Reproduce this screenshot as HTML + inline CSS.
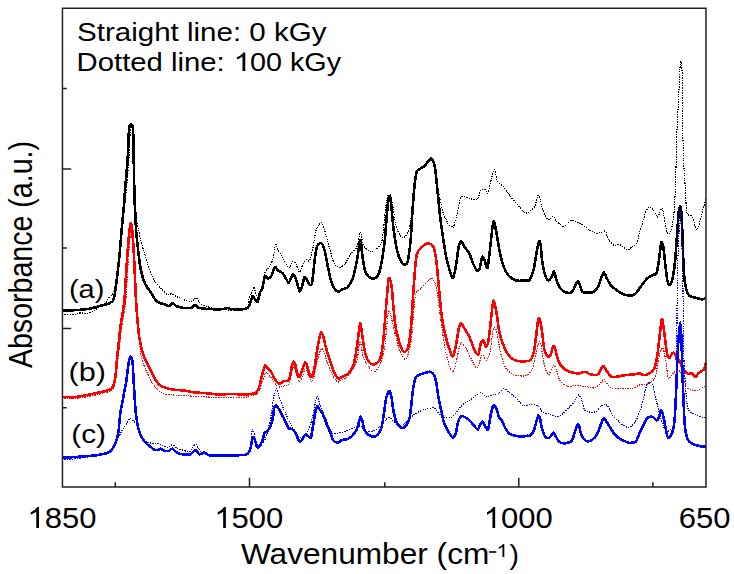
<!DOCTYPE html>
<html><head><meta charset="utf-8"><style>html,body{margin:0;padding:0;background:#fff;width:734px;height:574px;overflow:hidden}svg{display:block}</style></head>
<body><svg width="734" height="574" viewBox="0 0 734 574">
<rect x="0" y="0" width="734" height="574" fill="#fff"/>
<g fill="none" stroke-linejoin="round" stroke-linecap="butt">
<path d="M62.00,314.20 C63.84,314.20 72.56,314.37 75.00,314.20 C77.44,314.03 77.33,313.17 79.20,313.00 C81.07,312.83 86.10,313.35 88.20,313.00 C90.30,312.65 92.33,311.42 94.00,310.50 C95.67,309.58 98.36,307.56 100.00,306.50 C101.64,305.44 104.35,304.20 105.60,303.00 C106.85,301.80 107.96,299.06 108.80,298.00 C109.64,296.94 110.76,296.63 111.50,295.50 C112.24,294.37 113.38,291.77 114.00,290.00 C114.62,288.23 115.42,285.22 115.90,283.00 C116.38,280.78 116.96,277.56 117.40,274.30 C117.84,271.04 118.55,264.58 119.00,260.00 C119.45,255.42 120.12,246.68 120.60,242.00 C121.08,237.32 121.93,230.97 122.40,227.00 C122.87,223.03 123.49,217.82 123.90,214.00 C124.31,210.18 124.95,203.54 125.30,200.00 C125.65,196.46 126.05,192.82 126.40,189.00 C126.75,185.18 127.42,177.68 127.80,173.00 C128.18,168.32 128.80,161.10 129.10,156.00 C129.40,150.90 129.66,140.97 129.90,137.00 C130.14,133.03 130.46,129.20 130.80,128.00 C131.14,126.80 131.95,126.80 132.30,128.50 C132.65,130.20 133.03,132.70 133.30,140.00 C133.57,147.30 133.93,170.79 134.20,180.00 C134.47,189.21 134.92,199.76 135.20,205.00 C135.48,210.24 135.79,213.74 136.20,217.00 C136.61,220.26 137.45,224.64 138.10,228.00 C138.75,231.36 139.89,237.09 140.80,240.70 C141.71,244.31 143.47,249.99 144.50,253.50 C145.53,257.01 147.07,262.38 148.10,265.50 C149.13,268.62 150.77,273.16 151.80,275.50 C152.83,277.84 154.11,280.19 155.40,282.00 C156.69,283.81 159.21,286.50 160.90,288.30 C162.59,290.10 165.74,293.92 167.30,294.70 C168.86,295.48 170.60,293.55 171.90,293.80 C173.20,294.06 175.14,295.81 176.50,296.50 C177.86,297.19 179.50,297.92 181.50,298.70 C183.50,299.48 188.49,302.11 190.60,302.00 C192.71,301.89 194.87,297.55 196.40,297.90 C197.93,298.25 199.29,303.10 201.40,304.50 C203.51,305.90 208.67,307.09 211.30,307.80 C213.94,308.51 215.23,309.26 220.00,309.50 C224.77,309.74 240.84,311.38 245.00,309.50 C249.16,307.62 248.47,298.57 249.40,296.20 C250.34,293.83 250.93,294.10 251.60,292.80 C252.27,291.50 253.50,286.76 254.10,287.00 C254.69,287.24 255.22,292.97 255.80,294.50 C256.38,296.03 257.38,298.51 258.20,297.80 C259.02,297.09 260.65,293.01 261.60,289.50 C262.55,285.99 263.74,276.27 264.90,273.00 C266.06,269.73 268.64,268.51 269.80,266.40 C270.96,264.29 272.28,261.16 273.10,258.10 C273.92,255.04 274.89,245.98 275.60,244.80 C276.31,243.62 277.04,247.92 278.10,249.80 C279.16,251.68 281.57,255.52 283.10,258.10 C284.63,260.68 287.50,267.53 288.90,268.00 C290.30,268.47 291.95,261.87 293.00,261.40 C294.05,260.93 295.37,263.17 296.30,264.70 C297.24,266.23 298.65,272.31 299.60,272.20 C300.55,272.09 302.05,265.67 303.00,263.90 C303.95,262.13 305.37,260.17 306.30,259.70 C307.24,259.23 308.67,262.24 309.60,260.60 C310.54,258.96 311.96,252.45 312.90,248.10 C313.83,243.75 315.02,233.53 316.20,229.90 C317.38,226.27 320.02,222.50 321.20,222.50 C322.38,222.50 323.34,226.27 324.50,229.90 C325.66,233.53 328.00,243.28 329.40,248.10 C330.80,252.92 332.98,261.19 334.40,263.90 C335.82,266.61 337.90,267.20 339.40,267.20 C340.90,267.20 343.44,265.71 345.00,263.90 C346.56,262.09 348.70,256.85 350.40,254.40 C352.10,251.95 355.58,249.75 357.00,246.60 C358.42,243.45 359.48,232.38 360.40,232.20 C361.32,232.02 362.32,242.71 363.50,245.30 C364.68,247.89 367.21,249.76 368.70,250.50 C370.19,251.24 372.14,251.79 374.00,250.50 C375.86,249.21 380.14,247.51 381.80,241.40 C383.46,235.29 384.67,214.24 385.70,207.40 C386.73,200.56 388.18,193.84 389.10,193.10 C390.02,192.36 391.21,197.58 392.20,202.20 C393.19,206.82 394.80,220.70 396.10,225.70 C397.40,230.70 399.91,236.20 401.40,237.50 C402.89,238.80 405.40,236.63 406.60,234.90 C407.80,233.17 409.11,228.90 409.90,225.30 C410.69,221.70 411.69,213.51 412.20,209.50 C412.71,205.49 413.09,201.00 413.50,197.00 C413.91,193.00 414.62,184.96 415.10,181.30 C415.58,177.65 416.19,172.97 416.90,171.20 C417.61,169.43 418.98,169.58 420.10,168.80 C421.22,168.02 423.30,167.14 424.80,165.70 C426.30,164.25 429.48,159.15 430.70,158.60 C431.92,158.05 432.73,160.13 433.40,161.80 C434.07,163.47 434.96,167.64 435.40,170.40 C435.84,173.16 436.00,178.20 436.50,181.30 C437.00,184.40 437.96,187.85 438.90,192.30 C439.83,196.75 442.00,208.70 443.10,212.70 C444.21,216.69 445.96,218.84 446.70,220.50 C447.44,222.16 447.52,223.51 448.30,224.40 C449.08,225.29 451.46,226.43 452.20,226.80 C452.94,227.17 452.76,229.00 453.50,227.00 C454.24,225.00 456.29,216.95 457.40,212.70 C458.50,208.45 459.63,199.04 461.30,197.00 C462.97,194.96 466.98,197.93 469.20,198.30 C471.42,198.67 475.34,200.70 477.00,199.60 C478.66,198.50 479.79,191.97 480.90,190.50 C482.00,189.03 483.79,188.83 484.80,189.20 C485.81,189.57 487.06,194.59 488.00,193.10 C488.94,191.61 490.44,182.03 491.40,178.70 C492.36,175.37 493.95,169.23 494.80,169.60 C495.65,169.97 496.22,178.89 497.40,181.30 C498.58,183.71 501.19,184.38 503.10,186.60 C505.01,188.82 508.68,194.24 510.90,197.00 C513.12,199.76 516.80,203.88 518.80,206.10 C520.80,208.32 523.50,211.92 525.00,212.70 C526.50,213.48 528.01,212.53 529.40,211.60 C530.79,210.66 533.57,208.41 534.80,206.10 C536.03,203.79 537.32,196.22 538.10,195.30 C538.88,194.38 539.69,197.76 540.30,199.60 C540.91,201.44 541.48,205.68 542.40,208.30 C543.32,210.92 545.72,216.56 546.80,218.10 C547.88,219.64 549.08,219.50 550.00,219.20 C550.92,218.90 552.36,215.69 553.30,216.00 C554.24,216.31 555.37,220.01 556.60,221.40 C557.83,222.79 560.77,225.18 562.00,225.80 C563.23,226.42 563.91,226.58 565.30,225.80 C566.69,225.02 569.63,220.61 571.80,220.30 C573.97,219.99 578.28,222.37 580.60,223.60 C582.92,224.83 586.05,227.61 588.20,229.00 C590.35,230.39 593.94,232.93 595.80,233.40 C597.66,233.87 599.91,232.61 601.30,232.30 C602.69,231.99 604.68,230.28 605.60,231.20 C606.52,232.12 606.57,236.79 607.80,238.80 C609.03,240.81 612.66,244.62 614.30,245.40 C615.94,246.18 618.07,244.00 619.40,244.30 C620.73,244.60 622.47,246.74 623.70,247.50 C624.93,248.26 626.87,249.86 628.10,249.70 C629.33,249.54 631.17,247.32 632.40,246.40 C633.63,245.48 635.86,244.89 636.80,243.20 C637.74,241.51 638.24,237.28 639.00,234.50 C639.76,231.72 641.28,226.69 642.20,223.60 C643.12,220.51 644.57,215.02 645.50,212.70 C646.43,210.38 647.72,207.67 648.80,207.20 C649.88,206.73 651.87,208.01 653.10,209.40 C654.33,210.79 656.27,217.16 657.50,217.00 C658.73,216.84 660.88,208.46 661.80,208.30 C662.72,208.14 663.22,212.50 664.00,215.90 C664.78,219.30 666.36,229.98 667.30,232.30 C668.24,234.62 669.68,234.77 670.60,232.30 C671.52,229.84 673.09,222.07 673.80,214.90 C674.51,207.73 675.18,193.15 675.60,181.70 C676.02,170.25 676.35,146.54 676.80,134.10 C677.25,121.66 678.28,104.09 678.80,93.90 C679.32,83.71 680.02,64.96 680.50,62.20 C680.98,59.44 681.86,63.86 682.20,74.40 C682.54,84.94 682.63,123.13 682.90,136.60 C683.17,150.07 683.75,162.08 684.10,169.50 C684.45,176.92 685.00,182.88 685.40,189.00 C685.80,195.12 685.92,208.73 686.90,212.70 C687.88,216.67 690.91,214.53 692.30,217.00 C693.69,219.47 695.62,229.48 696.70,230.10 C697.78,230.72 698.98,224.49 699.90,221.40 C700.82,218.31 702.34,211.39 703.20,208.30 C704.06,205.21 705.60,200.83 706.00,199.60" stroke="#000" stroke-width="1.1" stroke-dasharray="1.4 1.1" shape-rendering="crispEdges"/>
<path d="M62.00,310.50 C64.08,310.44 72.99,310.33 76.70,310.10 C80.41,309.87 85.61,309.28 88.20,308.90 C90.79,308.52 93.16,307.87 95.00,307.40 C96.84,306.93 99.39,306.08 101.20,305.60 C103.01,305.12 106.48,304.44 107.80,304.00 C109.12,303.56 109.81,302.91 110.50,302.50 C111.19,302.09 112.09,302.30 112.70,301.10 C113.31,299.90 114.13,297.80 114.80,294.00 C115.47,290.20 116.69,280.25 117.40,274.30 C118.11,268.35 119.20,258.28 119.80,252.00 C120.39,245.72 121.16,235.03 121.60,230.00 C122.04,224.97 122.56,220.04 122.90,216.50 C123.24,212.96 123.69,208.85 124.00,205.00 C124.31,201.15 124.75,193.89 125.10,189.30 C125.45,184.71 126.10,177.46 126.50,172.60 C126.90,167.74 127.59,160.33 127.90,155.00 C128.21,149.67 128.49,139.04 128.70,135.00 C128.91,130.96 129.07,127.97 129.40,126.50 C129.73,125.03 130.55,124.60 131.00,124.60 C131.45,124.60 132.27,124.74 132.60,126.50 C132.93,128.26 133.05,127.30 133.30,137.00 C133.56,146.70 134.12,184.19 134.40,195.00 C134.68,205.81 135.05,208.12 135.30,213.30 C135.56,218.49 135.80,226.41 136.20,231.60 C136.60,236.78 137.58,245.24 138.10,249.90 C138.62,254.56 139.31,260.80 139.90,264.50 C140.50,268.20 141.51,273.15 142.30,276.00 C143.09,278.85 144.34,282.33 145.50,284.60 C146.66,286.87 149.22,290.03 150.50,292.00 C151.78,293.97 153.37,297.01 154.50,298.50 C155.63,299.99 157.01,301.65 158.50,302.50 C159.99,303.35 163.50,303.98 165.00,304.50 C166.50,305.02 168.05,306.38 169.10,306.20 C170.15,306.02 171.34,303.20 172.40,303.20 C173.46,303.20 175.07,305.55 176.60,306.20 C178.13,306.85 181.09,307.57 183.20,307.80 C185.31,308.03 189.86,308.23 191.50,307.80 C193.14,307.38 193.75,304.80 194.80,304.80 C195.85,304.80 196.79,307.19 198.90,307.80 C201.01,308.41 206.30,308.92 209.70,309.10 C213.10,309.28 220.56,309.28 222.90,309.10 C225.24,308.92 225.02,307.80 226.20,307.80 C227.38,307.80 228.62,308.92 231.20,309.10 C233.78,309.28 241.86,309.53 244.40,309.10 C246.94,308.68 247.95,307.93 249.10,306.10 C250.25,304.27 251.79,297.38 252.50,296.20 C253.21,295.02 253.41,296.98 254.10,297.80 C254.79,298.62 256.58,302.71 257.40,302.00 C258.22,301.29 259.19,294.80 259.90,292.80 C260.61,290.80 261.69,290.24 262.40,287.90 C263.11,285.56 264.08,277.59 264.90,276.30 C265.72,275.01 267.26,278.91 268.20,278.80 C269.13,278.69 270.56,277.14 271.50,275.50 C272.44,273.86 273.87,267.91 274.80,267.20 C275.74,266.49 277.04,269.68 278.10,270.50 C279.16,271.32 281.24,271.95 282.30,273.00 C283.36,274.05 284.67,276.54 285.60,277.90 C286.54,279.26 287.85,283.18 288.90,282.60 C289.95,282.02 291.95,274.11 293.00,273.80 C294.05,273.49 295.37,277.94 296.30,280.40 C297.24,282.86 298.78,290.38 299.60,291.20 C300.42,292.02 301.39,288.20 302.10,286.20 C302.81,284.20 303.89,277.92 304.60,277.10 C305.31,276.28 306.39,279.34 307.10,280.40 C307.81,281.46 308.89,284.25 309.60,284.60 C310.31,284.95 311.41,286.19 312.10,282.90 C312.79,279.61 313.81,266.56 314.50,261.40 C315.19,256.24 316.05,249.08 317.00,246.50 C317.95,243.92 320.14,242.73 321.20,243.20 C322.26,243.67 323.56,246.51 324.50,249.80 C325.44,253.09 326.87,261.94 327.80,266.40 C328.74,270.86 330.05,278.03 331.10,281.30 C332.15,284.57 334.15,288.06 335.20,289.50 C336.25,290.94 337.55,291.50 338.50,291.50 C339.45,291.50 340.98,289.93 341.90,289.50 C342.82,289.07 344.16,288.84 345.00,288.50 C345.84,288.16 346.67,288.59 347.80,287.10 C348.93,285.61 351.70,281.88 353.00,278.00 C354.30,274.12 355.95,265.08 357.00,259.70 C358.05,254.32 359.66,240.75 360.40,240.00 C361.14,239.25 361.58,250.14 362.20,254.40 C362.82,258.66 363.88,266.96 364.80,270.10 C365.72,273.25 367.40,275.41 368.70,276.60 C370.00,277.79 372.51,279.05 374.00,278.50 C375.49,277.95 377.73,277.59 379.20,272.70 C380.67,267.81 383.29,252.50 384.40,244.00 C385.50,235.50 386.33,219.36 387.00,212.70 C387.67,206.04 388.55,198.49 389.10,197.00 C389.65,195.51 390.28,197.77 390.90,202.20 C391.52,206.63 392.58,221.27 393.50,228.30 C394.42,235.33 396.10,246.80 397.40,251.80 C398.70,256.80 401.28,262.11 402.70,263.60 C404.12,265.09 406.29,265.44 407.40,262.30 C408.50,259.16 409.82,247.99 410.50,241.40 C411.18,234.81 411.77,222.09 412.20,215.80 C412.62,209.51 413.09,201.89 413.50,197.00 C413.91,192.11 414.62,184.96 415.10,181.30 C415.58,177.65 416.19,172.97 416.90,171.20 C417.61,169.43 418.98,169.58 420.10,168.80 C421.22,168.02 423.30,167.14 424.80,165.70 C426.30,164.25 429.48,159.15 430.70,158.60 C431.92,158.05 432.73,160.13 433.40,161.80 C434.07,163.47 434.96,167.64 435.40,170.40 C435.84,173.16 436.12,177.53 436.50,181.30 C436.88,185.07 437.65,192.55 438.10,197.00 C438.55,201.45 439.19,208.27 439.70,212.70 C440.21,217.13 440.85,222.39 441.70,228.30 C442.55,234.21 444.58,248.48 445.70,254.40 C446.82,260.32 448.57,266.77 449.60,270.10 C450.63,273.43 452.08,278.64 453.00,277.90 C453.92,277.16 455.29,269.33 456.10,264.90 C456.91,260.47 457.96,249.93 458.70,246.60 C459.44,243.27 460.38,241.22 461.30,241.40 C462.22,241.58 464.08,246.24 465.20,247.90 C466.32,249.56 468.08,250.88 469.20,253.10 C470.32,255.32 472.00,261.12 473.10,263.60 C474.21,266.08 476.08,269.86 477.00,270.60 C477.92,271.34 478.86,270.73 479.60,268.80 C480.34,266.87 481.46,258.11 482.20,257.00 C482.94,255.90 484.06,259.44 484.80,261.00 C485.54,262.56 486.66,269.67 487.40,268.00 C488.14,266.33 489.15,255.74 490.00,249.20 C490.85,242.66 492.46,224.01 493.40,221.80 C494.33,219.59 495.78,229.72 496.60,233.60 C497.42,237.48 498.28,244.77 499.20,249.20 C500.12,253.63 501.81,261.20 503.10,264.90 C504.39,268.60 506.44,273.09 508.30,275.30 C510.16,277.51 513.61,279.76 516.20,280.50 C518.79,281.24 524.73,280.54 526.60,280.50 C528.47,280.46 528.39,281.79 529.40,280.20 C530.41,278.61 532.62,273.62 533.70,269.30 C534.78,264.98 536.22,253.71 537.00,249.70 C537.78,245.69 538.68,241.61 539.20,241.00 C539.72,240.39 540.25,242.31 540.70,245.40 C541.15,248.49 541.69,258.32 542.40,262.80 C543.11,267.28 544.76,274.54 545.70,277.00 C546.64,279.46 548.08,280.36 549.00,280.20 C549.92,280.04 551.52,277.13 552.20,275.90 C552.88,274.67 553.18,270.89 553.80,271.50 C554.42,272.11 555.74,277.89 556.60,280.20 C557.46,282.51 558.67,286.10 559.90,287.80 C561.13,289.50 563.61,291.58 565.30,292.20 C566.99,292.82 570.26,293.43 571.80,292.20 C573.34,290.97 575.26,285.04 576.20,283.50 C577.14,281.96 577.78,280.83 578.40,281.30 C579.02,281.77 579.99,285.26 580.60,286.80 C581.21,288.34 581.01,291.44 582.70,292.20 C584.39,292.96 590.33,292.96 592.50,292.20 C594.67,291.44 596.75,288.81 598.00,286.80 C599.25,284.79 600.46,280.01 601.30,278.00 C602.14,275.99 603.13,272.60 603.90,272.60 C604.66,272.60 605.68,276.14 606.70,278.00 C607.72,279.86 609.71,284.00 611.10,285.70 C612.49,287.40 615.03,288.92 616.50,290.00 C617.97,291.08 619.86,292.52 621.50,293.30 C623.14,294.08 626.24,295.34 628.10,295.50 C629.96,295.66 633.06,295.32 634.60,294.40 C636.14,293.48 637.92,290.39 639.00,289.00 C640.08,287.61 640.97,286.16 642.20,284.60 C643.43,283.04 646.16,279.39 647.70,278.00 C649.24,276.61 651.87,275.41 653.10,274.80 C654.33,274.19 655.62,275.40 656.40,273.70 C657.18,272.00 657.98,266.81 658.60,262.80 C659.22,258.79 660.35,248.33 660.80,245.40 C661.25,242.47 661.43,241.80 661.80,242.10 C662.17,242.40 662.93,244.57 663.40,247.50 C663.87,250.43 664.55,258.17 665.10,262.80 C665.65,267.43 666.68,277.11 667.30,280.20 C667.92,283.29 668.82,284.60 669.50,284.60 C670.18,284.60 671.34,283.29 672.10,280.20 C672.87,277.11 674.19,269.27 674.90,262.80 C675.61,256.33 676.58,241.60 677.10,234.50 C677.62,227.40 678.19,216.71 678.60,212.70 C679.01,208.69 679.60,206.20 680.00,206.20 C680.40,206.20 681.05,208.39 681.40,212.70 C681.75,217.01 682.19,228.89 682.50,236.60 C682.81,244.31 683.22,260.30 683.60,267.10 C683.98,273.90 684.42,280.58 685.20,284.60 C685.98,288.62 687.63,293.66 689.10,295.50 C690.57,297.34 693.76,297.05 695.60,297.60 C697.44,298.15 700.63,299.40 702.10,299.40 C703.57,299.40 705.45,297.86 706.00,297.60" stroke="#000" stroke-width="2.6" shape-rendering="crispEdges"/>
<path d="M62.00,398.50 C64.55,398.43 74.62,398.64 80.00,398.00 C85.38,397.36 95.58,395.06 100.00,394.00 C104.42,392.94 109.15,391.77 111.20,390.50 C113.25,389.23 113.73,387.48 114.50,385.00 C115.27,382.52 116.08,376.97 116.60,373.00 C117.12,369.03 117.75,361.11 118.20,357.00 C118.65,352.89 119.32,348.25 119.80,344.00 C120.28,339.75 121.03,331.25 121.60,327.00 C122.17,322.75 123.20,317.68 123.80,314.00 C124.39,310.32 125.40,304.68 125.80,301.00 C126.20,297.32 126.20,294.38 126.60,288.00 C127.00,281.62 128.08,263.65 128.60,256.00 C129.12,248.35 129.93,238.25 130.30,234.00 C130.67,229.75 130.93,226.28 131.20,226.00 C131.47,225.72 131.87,227.96 132.20,232.00 C132.53,236.04 133.10,246.71 133.50,254.50 C133.90,262.29 134.66,281.97 135.00,287.00 C135.34,292.03 135.69,287.95 135.90,290.00 C136.11,292.05 136.30,298.24 136.50,301.50 C136.70,304.76 137.03,309.47 137.30,313.00 C137.57,316.53 138.10,322.57 138.40,326.40 C138.70,330.22 138.99,335.67 139.40,340.00 C139.81,344.33 140.35,352.68 141.30,357.00 C142.25,361.32 144.61,366.96 146.10,370.50 C147.59,374.04 150.17,379.29 151.80,382.00 C153.43,384.71 155.97,387.99 157.60,389.60 C159.23,391.22 161.13,392.63 163.30,393.40 C165.47,394.16 169.83,394.72 172.90,395.00 C175.97,395.28 182.18,395.23 185.00,395.40 C187.82,395.57 189.22,395.96 192.80,396.20 C196.38,396.44 205.36,396.97 210.30,397.10 C215.24,397.23 222.77,397.10 227.70,397.10 C232.63,397.10 241.90,397.23 245.10,397.10 C248.30,396.97 248.76,396.57 250.30,396.20 C251.84,395.83 254.77,395.24 256.00,394.50 C257.23,393.76 258.15,392.63 259.00,391.00 C259.85,389.37 261.05,385.62 262.00,383.00 C262.95,380.38 264.85,373.77 265.70,372.50 C266.55,371.23 267.11,373.08 268.00,374.00 C268.89,374.92 270.73,377.30 272.00,379.00 C273.27,380.70 275.73,384.87 277.00,386.00 C278.27,387.13 279.87,387.07 281.00,387.00 C282.13,386.93 283.87,385.93 285.00,385.50 C286.13,385.07 288.04,386.05 289.00,384.00 C289.96,381.95 291.09,373.41 291.80,371.00 C292.51,368.59 293.41,366.72 294.00,367.00 C294.59,367.28 295.43,371.16 296.00,373.00 C296.57,374.84 297.43,378.87 298.00,380.00 C298.57,381.13 299.29,381.71 300.00,381.00 C300.71,380.29 302.29,376.70 303.00,375.00 C303.71,373.30 304.43,369.43 305.00,369.00 C305.57,368.57 306.29,370.58 307.00,372.00 C307.71,373.42 309.29,377.73 310.00,379.00 C310.71,380.27 311.29,381.85 312.00,381.00 C312.71,380.15 314.15,376.26 315.00,373.00 C315.85,369.74 317.09,361.43 318.00,358.00 C318.91,354.57 320.55,349.65 321.40,348.80 C322.25,347.95 323.21,350.13 324.00,352.00 C324.79,353.87 326.01,359.17 327.00,362.00 C327.99,364.83 329.57,369.18 331.00,372.00 C332.43,374.82 335.83,380.71 337.10,381.90 C338.38,383.09 338.46,381.24 340.00,380.40 C341.54,379.56 345.63,378.76 348.00,376.00 C350.37,373.24 354.99,365.80 356.70,360.90 C358.41,356.00 359.11,341.80 360.10,341.40 C361.09,341.00 361.82,353.75 363.70,358.10 C365.58,362.45 371.09,371.26 373.40,372.10 C375.71,372.94 378.41,367.56 380.00,364.00 C381.59,360.44 383.37,354.54 384.60,347.00 C385.83,339.46 387.52,313.96 388.70,310.80 C389.88,307.64 391.51,319.57 392.90,324.70 C394.29,329.83 396.71,342.07 398.50,347.00 C400.29,351.93 403.73,360.29 405.50,359.50 C407.27,358.71 409.63,350.27 411.00,341.40 C412.37,332.53 413.81,304.39 415.20,296.90 C416.59,289.41 418.63,291.08 420.80,288.50 C422.97,285.92 428.77,280.05 430.50,278.70 C432.23,277.35 432.18,277.68 433.00,279.00 C433.82,280.32 435.25,282.76 436.30,288.00 C437.35,293.24 439.25,308.01 440.40,316.00 C441.55,323.99 443.28,337.78 444.40,344.40 C445.52,351.02 447.08,358.80 448.30,362.70 C449.52,366.60 451.89,371.90 453.00,371.90 C454.11,371.90 455.00,366.78 456.10,362.70 C457.21,358.62 459.31,344.94 460.80,343.10 C462.29,341.26 465.04,347.29 466.60,349.70 C468.16,352.11 470.33,357.52 471.80,360.10 C473.27,362.68 475.53,368.64 477.00,367.90 C478.47,367.16 480.91,356.00 482.20,354.90 C483.49,353.79 485.00,360.47 486.10,360.10 C487.21,359.73 488.97,356.73 490.00,352.30 C491.03,347.87 492.46,331.76 493.40,328.80 C494.33,325.84 495.59,328.07 496.60,331.40 C497.61,334.73 499.21,347.13 500.50,352.30 C501.79,357.47 503.84,364.75 505.70,367.90 C507.56,371.04 510.87,373.38 513.60,374.50 C516.33,375.62 522.39,376.48 525.00,375.80 C527.61,375.12 530.51,372.55 532.00,369.70 C533.49,366.85 534.56,359.52 535.50,355.70 C536.44,351.88 537.86,344.41 538.60,342.70 C539.34,340.99 540.16,342.00 540.70,343.60 C541.24,345.20 541.79,350.56 542.40,354.00 C543.01,357.44 544.14,364.98 545.00,367.90 C545.86,370.82 547.64,374.35 548.50,374.60 C549.36,374.86 550.36,371.02 551.10,369.70 C551.84,368.38 552.95,365.30 553.70,365.30 C554.45,365.30 555.54,367.60 556.40,369.70 C557.26,371.80 558.33,377.76 559.80,380.10 C561.27,382.44 564.58,385.45 566.80,386.20 C569.02,386.95 573.03,385.40 575.50,385.40 C577.97,385.40 581.48,385.83 584.20,386.20 C586.92,386.57 592.48,388.37 594.70,388.00 C596.92,387.63 598.54,384.83 599.90,383.60 C601.26,382.37 603.31,379.30 604.30,379.30 C605.29,379.30 605.79,382.37 606.90,383.60 C608.00,384.83 609.32,387.28 612.10,388.00 C614.88,388.72 623.37,388.74 626.50,388.70 C629.63,388.66 632.30,388.25 634.20,387.70 C636.10,387.15 638.00,385.34 639.90,384.80 C641.80,384.26 645.46,384.85 647.60,383.90 C649.74,382.95 653.53,381.22 655.00,378.10 C656.47,374.98 657.16,365.88 658.00,361.90 C658.84,357.92 660.18,351.90 660.90,350.00 C661.62,348.10 662.46,347.24 663.10,348.50 C663.74,349.76 664.66,354.71 665.40,358.90 C666.14,363.09 667.46,375.79 668.30,378.10 C669.14,380.41 670.45,376.04 671.30,375.20 C672.15,374.36 673.15,372.84 674.30,372.20 C675.45,371.56 678.04,369.65 679.40,370.70 C680.76,371.75 682.95,377.29 683.90,379.60 C684.85,381.91 684.95,385.53 686.10,387.00 C687.25,388.47 690.31,389.57 692.00,390.00 C693.69,390.43 696.31,390.43 698.00,390.00 C699.69,389.57 702.77,387.50 703.90,387.00 C705.03,386.50 705.70,386.57 706.00,386.50" stroke="#ff0000" stroke-width="1.1" stroke-dasharray="1.4 1.1" shape-rendering="crispEdges"/>
<path d="M62.00,396.70 C63.49,396.78 69.54,397.43 72.50,397.30 C75.46,397.17 79.94,396.31 82.90,395.80 C85.86,395.29 90.44,394.32 93.40,393.70 C96.36,393.08 101.28,392.08 103.80,391.40 C106.32,390.72 109.71,390.15 111.20,388.90 C112.69,387.65 113.62,385.12 114.30,382.60 C114.98,380.08 115.56,375.10 116.00,371.10 C116.44,367.11 116.99,358.55 117.40,354.40 C117.81,350.25 118.45,345.95 118.90,341.80 C119.35,337.65 120.06,329.24 120.60,325.10 C121.14,320.96 122.15,316.16 122.70,312.60 C123.25,309.04 124.15,303.63 124.50,300.00 C124.85,296.37 124.79,293.45 125.20,287.00 C125.61,280.55 126.79,262.57 127.40,254.50 C128.01,246.43 129.02,234.48 129.50,230.00 C129.98,225.52 130.42,222.90 130.80,222.90 C131.18,222.90 131.76,225.52 132.20,230.00 C132.64,234.48 133.43,246.00 133.90,254.50 C134.37,263.00 135.19,283.34 135.50,290.00 C135.81,296.66 135.90,298.24 136.10,301.50 C136.30,304.76 136.63,309.47 136.90,313.00 C137.17,316.53 137.65,322.87 138.00,326.40 C138.35,329.93 138.93,334.91 139.40,337.90 C139.87,340.89 140.62,344.79 141.30,347.50 C141.98,350.21 143.25,354.56 144.20,357.00 C145.15,359.44 146.92,362.52 148.00,364.70 C149.08,366.88 150.71,370.23 151.80,372.40 C152.89,374.57 154.61,378.24 155.70,380.00 C156.79,381.76 158.15,383.71 159.50,384.80 C160.85,385.89 163.30,387.02 165.20,387.70 C167.10,388.38 170.09,389.19 172.90,389.60 C175.71,390.01 182.18,390.23 185.00,390.60 C187.82,390.97 189.71,391.82 192.80,392.20 C195.89,392.58 203.09,392.97 206.80,393.30 C210.51,393.63 215.54,394.40 219.00,394.50 C222.46,394.60 227.50,394.00 231.20,394.00 C234.90,394.00 241.77,394.60 245.10,394.50 C248.43,394.40 253.08,393.73 254.70,393.30 C256.31,392.88 255.93,392.12 256.50,391.50 C257.07,390.88 258.02,390.76 258.70,388.90 C259.38,387.04 260.61,381.12 261.30,378.40 C261.99,375.68 263.03,371.56 263.60,369.70 C264.17,367.84 264.76,365.56 265.30,365.30 C265.84,365.05 266.61,367.04 267.40,367.90 C268.19,368.76 269.91,369.91 270.90,371.40 C271.89,372.89 273.41,376.78 274.40,378.40 C275.39,380.01 277.04,382.11 277.90,382.80 C278.76,383.49 279.64,383.56 280.50,383.30 C281.36,383.05 283.01,381.33 284.00,381.00 C284.99,380.67 286.64,381.61 287.50,381.00 C288.36,380.39 289.49,378.80 290.10,376.70 C290.71,374.60 291.30,368.31 291.80,366.20 C292.30,364.09 293.10,362.04 293.60,361.80 C294.10,361.56 294.82,362.88 295.30,364.50 C295.78,366.12 296.38,371.47 297.00,373.20 C297.62,374.93 298.95,377.20 299.70,376.70 C300.45,376.20 301.56,371.68 302.30,369.70 C303.04,367.72 304.29,363.44 304.90,362.70 C305.51,361.96 305.99,363.01 306.60,364.50 C307.21,365.99 308.46,371.47 309.20,373.20 C309.94,374.93 311.05,377.45 311.80,376.70 C312.55,375.95 313.75,371.61 314.50,367.90 C315.25,364.19 316.36,354.93 317.10,350.50 C317.84,346.07 319.09,339.19 319.70,336.60 C320.31,334.01 320.90,332.20 321.40,332.20 C321.90,332.20 322.58,334.50 323.20,336.60 C323.82,338.70 325.06,344.29 325.80,347.00 C326.54,349.71 327.54,352.98 328.40,355.70 C329.26,358.42 330.91,363.48 331.90,366.20 C332.89,368.92 334.41,373.17 335.40,374.90 C336.39,376.63 337.67,378.27 338.90,378.40 C340.13,378.53 342.75,376.49 344.10,375.80 C345.45,375.11 347.01,375.21 348.40,373.50 C349.79,371.79 352.64,367.85 353.90,363.70 C355.16,359.55 356.42,349.92 357.30,344.20 C358.18,338.48 359.39,324.49 360.10,323.30 C360.81,322.11 361.59,331.65 362.30,335.80 C363.01,339.95 364.12,348.85 365.10,352.60 C366.08,356.35 367.83,360.64 369.20,362.30 C370.57,363.96 373.21,364.89 374.80,364.30 C376.39,363.71 379.21,361.34 380.40,358.10 C381.59,354.86 382.41,348.50 383.20,341.40 C383.99,334.30 385.22,316.88 386.00,308.00 C386.78,299.12 387.92,281.86 388.70,278.70 C389.48,275.54 390.82,281.55 391.50,285.70 C392.18,289.85 392.91,302.08 393.50,308.00 C394.09,313.92 394.79,322.37 395.70,327.50 C396.61,332.63 398.71,340.73 399.90,344.20 C401.09,347.67 402.92,351.60 404.10,352.00 C405.28,352.40 407.22,350.47 408.20,347.00 C409.18,343.53 410.21,336.18 411.00,327.50 C411.79,318.82 413.01,295.96 413.80,285.70 C414.59,275.44 415.41,260.62 416.60,255.10 C417.79,249.57 420.63,248.36 422.20,246.70 C423.77,245.04 426.13,243.40 427.70,243.40 C429.27,243.40 432.05,244.06 433.30,246.70 C434.55,249.33 435.68,255.87 436.50,262.00 C437.32,268.13 438.36,282.39 439.10,290.00 C439.84,297.61 440.76,309.10 441.70,315.70 C442.63,322.30 444.58,331.78 445.70,336.60 C446.82,341.42 448.57,346.92 449.60,349.70 C450.63,352.48 452.08,356.95 453.00,356.20 C453.92,355.45 455.29,348.28 456.10,344.40 C456.91,340.52 458.03,331.83 458.70,328.80 C459.37,325.77 460.06,323.18 460.80,323.00 C461.54,322.82 462.71,325.57 463.90,327.50 C465.09,329.43 467.71,333.46 469.20,336.60 C470.69,339.75 473.11,347.18 474.40,349.70 C475.69,352.22 477.38,355.33 478.30,354.40 C479.22,353.46 480.16,345.07 480.90,343.10 C481.64,341.13 482.76,339.95 483.50,340.50 C484.24,341.05 485.36,347.18 486.10,347.00 C486.84,346.82 487.95,343.63 488.70,339.20 C489.45,334.77 490.73,321.17 491.40,315.70 C492.07,310.23 492.66,300.97 493.40,300.60 C494.14,300.23 495.78,308.74 496.60,313.10 C497.42,317.46 498.28,326.97 499.20,331.40 C500.12,335.83 501.81,341.07 503.10,344.40 C504.39,347.73 506.81,352.75 508.30,354.90 C509.79,357.05 511.74,358.68 513.60,359.60 C515.46,360.52 519.05,361.33 521.40,361.40 C523.75,361.47 528.46,361.39 530.20,360.10 C531.94,358.81 532.84,355.88 533.70,352.30 C534.56,348.72 535.68,339.38 536.30,334.80 C536.92,330.22 537.68,322.34 538.10,320.00 C538.52,317.66 538.89,317.68 539.30,318.30 C539.71,318.92 540.56,322.06 541.00,324.40 C541.44,326.74 541.95,331.34 542.40,334.80 C542.85,338.26 543.58,345.84 544.20,348.80 C544.82,351.76 545.94,354.72 546.80,355.70 C547.66,356.68 549.44,356.93 550.30,355.70 C551.16,354.47 552.23,348.11 552.90,347.00 C553.57,345.89 554.39,346.41 555.00,347.90 C555.61,349.39 556.39,355.03 557.20,357.50 C558.01,359.97 559.34,363.44 560.70,365.30 C562.06,367.16 564.94,369.54 566.80,370.60 C568.66,371.66 572.07,372.39 573.80,372.80 C575.53,373.21 577.40,373.64 579.00,373.50 C580.60,373.36 583.61,371.73 585.10,371.80 C586.59,371.87 587.77,373.56 589.50,374.00 C591.23,374.44 595.70,375.51 597.30,374.90 C598.90,374.29 599.94,370.97 600.80,369.70 C601.66,368.43 602.54,365.66 603.40,365.90 C604.26,366.14 605.79,369.87 606.90,371.40 C608.00,372.93 609.73,375.95 611.20,376.70 C612.67,377.45 615.40,376.91 617.30,376.70 C619.20,376.49 622.21,375.54 624.60,375.20 C626.99,374.86 632.03,374.57 634.20,374.30 C636.37,374.03 638.55,373.17 639.90,373.30 C641.25,373.43 642.34,375.20 643.70,375.20 C645.06,375.20 648.00,374.25 649.50,373.30 C651.00,372.35 653.22,370.81 654.30,368.50 C655.38,366.19 656.38,361.33 657.10,357.00 C657.82,352.67 658.85,342.50 659.40,337.90 C659.95,333.30 660.59,327.16 661.00,324.50 C661.41,321.84 661.85,318.01 662.30,319.10 C662.75,320.19 663.66,328.25 664.20,332.20 C664.74,336.15 665.62,343.64 666.10,347.00 C666.58,350.36 667.08,354.38 667.60,355.90 C668.12,357.42 669.18,358.01 669.80,357.70 C670.42,357.39 671.36,354.37 672.00,353.70 C672.64,353.03 673.78,352.69 674.30,353.00 C674.82,353.31 675.39,355.06 675.70,355.90 C676.01,356.74 675.98,358.16 676.50,358.90 C677.02,359.64 678.56,359.84 679.40,361.10 C680.24,362.36 681.66,366.44 682.40,367.80 C683.14,369.16 683.86,369.86 684.60,370.70 C685.34,371.54 686.55,373.27 687.60,373.70 C688.65,374.12 690.85,373.27 692.00,373.70 C693.15,374.12 694.85,376.70 695.70,376.70 C696.55,376.70 697.26,374.44 698.00,373.70 C698.74,372.96 700.06,372.12 700.90,371.50 C701.74,370.88 703.18,370.57 703.90,369.30 C704.62,368.03 705.70,363.46 706.00,362.50" stroke="#ff0000" stroke-width="2.6" shape-rendering="crispEdges"/>
<path d="M62.00,460.10 C64.47,459.86 73.22,459.38 79.40,458.40 C85.58,457.42 100.66,454.93 105.60,453.20 C110.54,451.47 112.59,448.18 114.30,446.20 C116.01,444.22 116.59,441.42 117.70,439.20 C118.81,436.98 120.85,432.71 122.10,430.50 C123.35,428.29 125.39,425.27 126.50,423.60 C127.61,421.93 128.92,419.08 129.90,418.70 C130.88,418.32 132.41,419.96 133.40,420.90 C134.39,421.83 136.04,423.69 136.90,425.30 C137.76,426.92 138.51,430.33 139.50,432.30 C140.49,434.27 142.54,437.73 143.90,439.20 C145.26,440.67 147.37,442.08 149.10,442.70 C150.83,443.32 154.47,443.37 156.10,443.60 C157.73,443.83 158.98,443.76 160.60,444.30 C162.22,444.84 165.83,447.33 167.50,447.40 C169.17,447.47 171.01,444.62 172.40,444.80 C173.79,444.98 175.81,447.95 177.30,448.70 C178.79,449.45 181.13,449.70 182.90,450.10 C184.67,450.50 188.03,452.32 189.80,451.50 C191.57,450.68 193.81,444.20 195.40,444.30 C196.99,444.40 199.43,450.88 201.00,452.20 C202.57,453.52 205.13,453.15 206.50,453.60 C207.87,454.05 206.50,455.14 210.70,455.40 C216.01,455.65 238.57,455.88 244.00,455.40 C249.00,454.92 248.08,453.47 249.00,452.00 C249.92,450.53 250.07,447.83 250.50,445.00 C250.93,442.17 251.67,434.25 252.00,432.00 C252.33,429.75 252.46,428.73 252.80,429.10 C253.14,429.47 253.73,432.28 254.40,434.60 C255.07,436.92 256.39,444.17 257.50,445.50 C258.61,446.83 260.87,445.54 262.20,444.00 C263.53,442.46 265.57,439.05 266.90,434.60 C268.23,430.15 270.59,418.15 271.60,412.60 C272.61,407.05 273.33,398.77 274.00,395.40 C274.67,392.03 275.63,388.80 276.30,388.80 C276.97,388.80 277.81,392.92 278.70,395.40 C279.59,397.88 281.38,403.20 282.60,406.30 C283.82,409.40 285.97,414.41 287.30,417.30 C288.63,420.19 290.22,423.81 292.00,426.70 C293.78,429.59 297.68,437.03 299.90,437.70 C302.12,438.37 305.93,434.29 307.70,431.40 C309.47,428.51 311.29,421.41 312.40,417.30 C313.50,413.19 314.83,405.39 315.50,402.40 C316.17,399.41 316.53,396.09 317.10,396.20 C317.67,396.31 318.61,400.88 319.50,403.20 C320.39,405.52 322.18,409.48 323.40,412.60 C324.62,415.72 326.88,422.31 328.10,425.20 C329.32,428.09 330.89,431.78 332.00,433.00 C333.11,434.22 334.45,433.91 335.90,433.80 C337.34,433.69 340.39,432.78 342.20,432.20 C344.01,431.62 346.79,430.42 348.70,429.70 C350.61,428.98 353.97,427.60 355.70,427.10 C357.43,426.60 359.43,425.59 360.90,426.20 C362.37,426.81 364.13,430.78 366.10,431.40 C368.07,432.02 372.58,431.58 374.80,430.60 C377.02,429.62 379.82,426.36 381.80,424.50 C383.78,422.64 387.07,417.88 388.80,417.50 C390.53,417.12 392.27,420.61 394.00,421.80 C395.73,422.99 399.03,426.14 401.00,425.90 C402.97,425.66 405.93,421.79 407.90,420.10 C409.87,418.41 412.68,415.47 414.90,414.00 C417.12,412.53 421.13,410.56 423.60,409.70 C426.07,408.84 430.61,407.97 432.30,407.90 C433.99,407.83 434.49,408.35 435.50,409.20 C436.51,410.05 438.18,412.79 439.40,413.90 C440.62,415.00 442.33,416.56 444.10,417.00 C445.87,417.44 450.02,417.88 451.90,417.00 C453.78,416.12 455.84,412.57 457.40,410.80 C458.96,409.03 461.23,405.94 462.90,404.50 C464.57,403.06 467.41,401.82 469.20,400.60 C470.99,399.38 473.84,397.02 475.50,395.90 C477.16,394.78 479.68,392.81 480.90,392.70 C482.12,392.59 482.98,394.55 484.10,395.10 C485.22,395.65 487.58,396.71 488.80,396.60 C490.02,396.49 491.48,394.63 492.70,394.30 C493.92,393.97 495.84,395.08 497.40,394.30 C498.96,393.52 502.14,389.14 503.70,388.80 C505.26,388.46 506.63,390.57 508.40,391.90 C510.17,393.23 514.20,396.30 516.20,398.20 C518.20,400.10 521.17,404.29 522.50,405.30 C523.83,406.31 524.35,405.41 525.60,405.30 C526.85,405.19 529.50,404.39 531.30,404.50 C533.10,404.61 536.76,405.11 538.30,406.10 C539.84,407.09 540.75,410.39 542.20,411.50 C543.65,412.61 546.28,413.16 548.50,413.90 C550.72,414.64 555.90,416.70 557.90,416.70 C559.90,416.70 561.04,415.19 562.60,413.90 C564.16,412.61 567.23,409.27 568.90,407.60 C570.57,405.93 573.07,403.87 574.40,402.10 C575.73,400.33 577.31,395.54 578.30,395.10 C579.29,394.66 580.51,396.89 581.40,399.00 C582.29,401.11 583.48,408.16 584.60,410.00 C585.72,411.84 587.64,411.79 589.30,412.00 C590.96,412.21 594.64,412.34 596.30,411.50 C597.96,410.66 599.78,407.13 601.00,406.10 C602.22,405.07 603.89,404.10 604.90,404.20 C605.91,404.30 606.98,405.20 608.10,406.80 C609.22,408.40 611.47,413.60 612.80,415.50 C614.13,417.40 616.15,418.90 617.50,420.20 C618.85,421.50 620.59,423.68 622.30,424.70 C624.01,425.72 627.67,427.99 629.60,427.40 C631.53,426.81 634.26,423.40 635.90,420.50 C637.54,417.60 639.71,411.79 641.20,406.90 C642.69,402.01 645.22,389.40 646.40,386.00 C647.58,382.60 648.61,383.04 649.50,382.90 C650.39,382.76 651.81,382.78 652.70,385.00 C653.59,387.22 654.92,394.90 655.80,398.60 C656.68,402.30 658.01,407.70 658.90,411.10 C659.79,414.50 661.05,419.64 662.10,422.60 C663.15,425.56 665.27,430.95 666.30,432.00 C667.33,433.05 668.37,430.88 669.40,430.00 C670.43,429.12 672.71,429.65 673.60,425.80 C674.49,421.95 675.26,411.99 675.70,402.80 C676.14,393.61 676.50,375.46 676.70,360.90 C676.90,346.34 676.96,313.87 677.10,300.00 C677.24,286.13 677.50,270.65 677.70,263.00 C677.90,255.35 678.15,253.37 678.50,246.00 C678.85,238.63 679.72,211.00 680.20,211.00 C680.68,211.00 681.56,238.63 681.90,246.00 C682.24,253.37 682.43,255.35 682.60,263.00 C682.77,270.65 682.97,289.09 683.10,300.00 C683.23,310.91 683.37,331.36 683.50,340.00 C683.63,348.64 683.63,353.29 684.00,361.00 C684.37,368.71 685.50,387.60 686.10,394.40 C686.70,401.20 687.01,406.18 688.20,409.00 C689.39,411.82 692.42,413.11 694.50,414.30 C696.58,415.49 701.27,416.88 702.90,417.40 C704.53,417.92 705.56,417.92 706.00,418.00" stroke="#0000ff" stroke-width="1.1" stroke-dasharray="1.4 1.1" shape-rendering="crispEdges"/>
<path d="M62.00,457.60 C63.13,457.56 67.68,457.41 70.00,457.30 C72.32,457.19 76.13,456.96 78.40,456.80 C80.67,456.64 83.69,456.38 86.00,456.20 C88.31,456.02 92.58,455.75 94.70,455.50 C96.83,455.25 99.26,454.74 101.00,454.40 C102.74,454.06 105.65,453.58 107.00,453.10 C108.35,452.62 109.66,451.72 110.50,451.00 C111.34,450.28 112.26,448.99 112.90,448.00 C113.54,447.01 114.49,445.13 115.00,444.00 C115.51,442.87 116.02,441.64 116.50,440.00 C116.98,438.36 118.00,434.81 118.40,432.40 C118.80,429.99 119.03,425.72 119.30,423.00 C119.57,420.28 119.96,415.68 120.30,413.20 C120.64,410.72 121.29,407.67 121.70,405.50 C122.11,403.33 122.79,400.10 123.20,397.90 C123.61,395.70 124.19,392.17 124.60,390.00 C125.01,387.83 125.62,385.83 126.10,382.60 C126.58,379.37 127.53,370.54 128.00,367.20 C128.47,363.86 128.99,360.49 129.40,359.00 C129.81,357.51 130.50,356.56 130.90,356.70 C131.30,356.84 131.93,358.78 132.20,360.00 C132.47,361.22 132.59,362.10 132.80,365.30 C133.01,368.50 133.46,378.39 133.70,382.60 C133.94,386.81 134.27,391.47 134.50,395.00 C134.73,398.53 134.92,403.56 135.30,407.50 C135.68,411.44 136.60,419.27 137.20,422.80 C137.79,426.33 138.64,429.96 139.50,432.40 C140.36,434.84 142.31,438.43 143.30,440.00 C144.29,441.57 145.42,442.49 146.50,443.50 C147.58,444.51 149.80,446.22 150.90,447.10 C152.00,447.98 153.20,449.33 154.30,449.70 C155.41,450.07 157.81,449.84 158.70,449.70 C159.59,449.56 159.75,448.54 160.60,448.70 C161.45,448.86 163.52,450.50 164.70,450.80 C165.88,451.10 167.81,451.10 168.90,450.80 C169.99,450.50 171.21,448.40 172.40,448.70 C173.59,449.00 175.81,452.11 177.30,452.90 C178.79,453.69 181.03,454.10 182.90,454.30 C184.77,454.50 188.73,454.89 190.50,454.30 C192.27,453.71 194.11,450.10 195.40,450.10 C196.69,450.10 198.32,453.95 199.60,454.30 C200.88,454.65 203.03,452.44 204.40,452.60 C205.77,452.76 206.82,455.00 209.30,455.40 C211.78,455.80 216.97,455.46 221.90,455.40 C226.83,455.34 240.36,455.35 244.10,455.00 C247.84,454.65 247.41,453.79 248.30,452.90 C249.19,452.01 249.97,449.96 250.40,448.70 C250.83,447.44 250.96,445.67 251.30,444.00 C251.64,442.33 252.32,437.57 252.80,436.90 C253.28,436.23 254.13,437.97 254.70,439.30 C255.27,440.63 256.18,445.19 256.80,446.30 C257.42,447.41 258.34,447.88 259.10,447.10 C259.87,446.32 261.42,442.80 262.20,440.80 C262.98,438.80 263.82,434.44 264.60,433.00 C265.38,431.56 266.81,431.71 267.70,430.60 C268.59,429.50 270.12,427.30 270.90,425.20 C271.68,423.10 272.76,418.14 273.20,415.80 C273.64,413.46 273.60,410.14 274.00,408.70 C274.40,407.25 275.33,405.60 276.00,405.60 C276.67,405.60 277.76,407.25 278.70,408.70 C279.63,410.14 281.50,413.69 282.60,415.80 C283.71,417.91 285.61,421.83 286.50,423.60 C287.39,425.37 288.12,427.52 288.90,428.30 C289.68,429.08 291.11,428.55 292.00,429.10 C292.89,429.65 294.42,430.98 295.20,432.20 C295.98,433.42 296.83,436.30 297.50,437.70 C298.17,439.10 299.23,441.87 299.90,442.10 C300.57,442.33 301.53,440.26 302.20,439.30 C302.87,438.34 303.82,435.80 304.60,435.30 C305.38,434.80 306.82,435.46 307.70,435.80 C308.58,436.14 310.13,438.54 310.80,437.70 C311.47,436.86 311.85,433.00 312.40,429.90 C312.95,426.80 314.03,419.14 314.70,415.80 C315.37,412.46 316.42,407.19 317.10,406.30 C317.78,405.41 318.72,408.49 319.50,409.50 C320.28,410.51 321.61,411.40 322.60,413.40 C323.59,415.40 325.39,420.82 326.50,423.60 C327.61,426.38 329.39,430.56 330.40,433.00 C331.41,435.44 332.48,439.47 333.60,440.80 C334.72,442.13 337.08,442.51 338.30,442.40 C339.52,442.29 340.97,440.44 342.20,440.00 C343.43,439.56 345.58,439.89 347.00,439.30 C348.42,438.71 350.84,437.16 352.20,435.80 C353.56,434.44 355.61,431.80 356.60,429.70 C357.59,427.60 358.63,422.86 359.20,421.00 C359.77,419.14 360.16,416.60 360.60,416.60 C361.04,416.60 361.76,419.14 362.30,421.00 C362.84,422.86 363.49,427.73 364.40,429.70 C365.31,431.67 367.34,433.91 368.70,434.90 C370.06,435.89 372.64,436.83 374.00,436.70 C375.36,436.57 377.19,435.49 378.30,434.00 C379.41,432.51 380.94,429.53 381.80,426.20 C382.66,422.87 383.78,414.45 384.40,410.50 C385.02,406.55 385.53,401.06 386.20,398.30 C386.87,395.54 388.36,391.24 389.10,391.00 C389.84,390.76 390.83,394.08 391.40,396.60 C391.97,399.12 392.49,405.47 393.10,408.80 C393.71,412.13 394.84,417.64 395.70,420.10 C396.56,422.56 398.21,425.09 399.20,426.20 C400.19,427.31 401.71,428.03 402.70,427.90 C403.69,427.77 405.21,426.77 406.20,425.30 C407.19,423.83 408.91,421.07 409.70,417.50 C410.49,413.93 411.30,404.29 411.80,400.10 C412.30,395.91 412.63,391.12 413.20,387.90 C413.77,384.68 414.94,379.26 415.80,377.40 C416.66,375.54 418.07,375.41 419.30,374.80 C420.53,374.19 423.03,373.53 424.50,373.10 C425.97,372.68 428.47,371.69 429.70,371.80 C430.93,371.91 432.38,372.85 433.20,373.90 C434.02,374.95 434.99,377.49 435.50,379.20 C436.01,380.91 436.36,383.31 436.80,386.00 C437.24,388.69 438.01,394.91 438.60,398.20 C439.19,401.49 440.33,406.08 441.00,409.20 C441.67,412.32 442.42,417.31 443.30,420.20 C444.18,423.09 445.87,427.16 447.20,429.60 C448.53,432.04 451.47,436.96 452.70,437.40 C453.93,437.84 455.12,434.92 455.90,432.70 C456.68,430.48 457.44,424.04 458.20,421.70 C458.96,419.36 460.19,416.75 461.30,416.20 C462.41,415.65 464.65,417.02 466.00,417.80 C467.35,418.58 469.57,420.48 470.80,421.70 C472.03,422.92 473.71,425.28 474.70,426.40 C475.69,427.52 477.02,429.81 477.80,429.60 C478.58,429.39 479.53,426.02 480.20,424.90 C480.87,423.78 481.83,421.60 482.50,421.70 C483.17,421.80 484.12,424.48 484.90,425.60 C485.68,426.72 487.24,430.82 488.00,429.60 C488.76,428.38 489.63,420.23 490.30,417.00 C490.97,413.77 492.13,408.46 492.70,406.80 C493.27,405.14 493.75,404.96 494.30,405.30 C494.85,405.64 495.93,407.54 496.60,409.20 C497.27,410.86 498.22,415.34 499.00,417.00 C499.78,418.66 501.22,419.34 502.10,420.90 C502.98,422.46 504.19,426.21 505.20,428.00 C506.21,429.79 507.87,432.44 509.20,433.50 C510.53,434.56 512.94,435.06 514.60,435.50 C516.26,435.94 519.12,436.56 520.90,436.60 C522.68,436.64 525.95,435.91 527.20,435.80 C528.45,435.69 528.79,436.47 529.70,435.80 C530.61,435.13 532.59,433.31 533.60,431.10 C534.61,428.89 536.13,422.41 536.80,420.20 C537.47,417.99 537.86,415.84 538.30,415.50 C538.74,415.16 539.45,416.26 539.90,417.80 C540.35,419.34 540.83,423.85 541.50,426.40 C542.17,428.95 543.61,434.13 544.60,435.80 C545.59,437.47 547.51,438.31 548.50,438.20 C549.49,438.09 550.93,435.78 551.60,435.00 C552.27,434.22 552.63,432.59 553.20,432.70 C553.77,432.81 554.82,434.58 555.60,435.80 C556.38,437.02 557.60,440.22 558.70,441.30 C559.81,442.38 561.96,443.24 563.40,443.40 C564.84,443.56 567.68,442.81 568.90,442.40 C570.12,441.99 571.11,442.10 572.00,440.50 C572.89,438.90 574.46,433.31 575.20,431.10 C575.94,428.89 576.65,425.68 577.20,424.90 C577.75,424.12 578.62,424.50 579.10,425.60 C579.58,426.71 579.93,430.80 580.60,432.70 C581.27,434.60 582.79,437.78 583.80,439.00 C584.81,440.22 586.48,441.20 587.70,441.30 C588.92,441.40 591.07,440.69 592.40,439.70 C593.73,438.71 596.00,436.18 597.10,434.30 C598.21,432.42 599.31,428.62 600.20,426.40 C601.09,424.18 602.51,419.27 603.40,418.60 C604.29,417.93 605.51,420.37 606.50,421.70 C607.49,423.03 609.18,426.14 610.40,428.00 C611.62,429.86 613.61,433.17 615.10,434.80 C616.59,436.43 619.50,438.58 620.90,439.50 C622.30,440.42 623.77,440.82 625.00,441.30 C626.23,441.78 628.06,442.87 629.60,442.90 C631.14,442.93 634.55,442.75 635.90,441.50 C637.25,440.25 638.07,436.32 639.10,434.10 C640.13,431.88 642.02,428.11 643.20,425.80 C644.38,423.49 646.05,419.05 647.40,417.80 C648.75,416.55 651.37,416.62 652.70,417.00 C654.03,417.38 655.92,420.44 656.80,420.50 C657.68,420.56 658.30,418.87 658.90,417.40 C659.50,415.93 660.40,410.40 661.00,410.10 C661.60,409.80 662.50,413.08 663.10,415.30 C663.70,417.52 664.61,422.84 665.20,425.80 C665.80,428.76 666.70,434.57 667.30,436.20 C667.89,437.83 668.66,437.89 669.40,437.30 C670.14,436.71 671.76,434.52 672.50,432.00 C673.24,429.48 674.09,425.12 674.60,419.50 C675.11,413.88 675.72,400.60 676.10,392.30 C676.48,384.00 676.97,368.31 677.30,360.90 C677.63,353.49 677.98,345.54 678.40,340.00 C678.82,334.46 679.86,321.80 680.30,321.80 C680.74,321.80 681.20,332.97 681.50,340.00 C681.80,347.03 682.10,362.50 682.40,371.40 C682.70,380.30 683.22,394.80 683.60,402.80 C683.98,410.80 684.45,422.57 685.10,427.90 C685.75,433.23 686.87,438.03 688.20,440.40 C689.53,442.77 692.72,443.76 694.50,444.60 C696.28,445.44 699.17,446.00 700.80,446.30 C702.43,446.60 705.26,446.64 706.00,446.70" stroke="#0000ff" stroke-width="2.6" shape-rendering="crispEdges"/>
</g>
<g stroke="#222" stroke-width="1.5" fill="none">
<path d="M62.45,486.9 V8.3 H705.95 V486.9 Z"/>
<path d="M62.45,88.4 H66.8 M62.45,169.0 H71.2 M62.45,248.1 H66.8 M62.45,328.4 H71.2 M62.45,407.8 H66.8 M115.3,486.9 V482.2 M249.5,486.9 V477.8 M384.8,486.9 V482.2 M518.8,486.9 V477.8 M652.9,486.9 V482.2"/>
</g>
<g font-family="Liberation Sans, sans-serif" fill="#000" stroke="none">
<text transform="translate(77.04,41.40) scale(1.1140,1)" font-size="26.5" >Straight line: 0 kGy</text>
<text transform="translate(76.60,71.00) scale(1.1050,1)" font-size="26.5" >Dotted line: </text>
<path d="M763,0 L583,0 L583,1147 C540,1106 483,1065 413,1024 C343,983 280,952 223,930 L223,1104 C323,1151 410,1207 485,1274 C560,1341 613,1405 644,1466 L763,1466 Z" transform="translate(233.44,71.00) scale(0.01553,-0.01255)"/>
<text transform="translate(250.00,71.00) scale(1.0850,1)" font-size="26.5" >00 kGy</text>
<text transform="translate(68.90,298.30) scale(1.1000,1)" font-size="26.4" >(a)</text>
<text transform="translate(68.50,380.70) scale(1.1600,1)" font-size="26.4" >(b)</text>
<text transform="translate(71.25,442.50) scale(1.1300,1)" font-size="26.4" >(c)</text>
<path d="M763,0 L583,0 L583,1147 C540,1106 483,1065 413,1024 C343,983 280,952 223,930 L223,1104 C323,1151 410,1207 485,1274 C560,1341 613,1405 644,1466 L763,1466 Z" transform="translate(27.42,528.00) scale(0.01516,-0.01430)"/>
<text transform="translate(44.69,528.00) scale(1.0280,1)" font-size="30.2" >850</text>
<path d="M763,0 L583,0 L583,1147 C540,1106 483,1065 413,1024 C343,983 280,952 223,930 L223,1104 C323,1151 410,1207 485,1274 C560,1341 613,1405 644,1466 L763,1466 Z" transform="translate(214.32,528.00) scale(0.01516,-0.01430)"/>
<text transform="translate(231.59,528.00) scale(1.0280,1)" font-size="30.2" >500</text>
<path d="M763,0 L583,0 L583,1147 C540,1106 483,1065 413,1024 C343,983 280,952 223,930 L223,1104 C323,1151 410,1207 485,1274 C560,1341 613,1405 644,1466 L763,1466 Z" transform="translate(483.62,528.00) scale(0.01516,-0.01430)"/>
<text transform="translate(500.89,528.00) scale(1.0280,1)" font-size="30.2" >000</text>
<text transform="translate(678.75,528.00) scale(1.0280,1)" font-size="30.2" >650</text>
<text transform="translate(240.90,564.40) scale(1.0620,1)" font-size="29.8" >Wavenumber (cm</text>
<rect x="489.2" y="551.2" width="7.1" height="1.6"/>
<path d="M763,0 L583,0 L583,1147 C540,1106 483,1065 413,1024 C343,983 280,952 223,930 L223,1104 C323,1151 410,1207 485,1274 C560,1341 613,1405 644,1466 L763,1466 Z" transform="translate(496.40,557.00) scale(0.01037,-0.00886)"/>
<text transform="translate(509.40,564.10) scale(1.0000,1)" font-size="28.3" >)</text>
<text transform="translate(31.5,368.06) rotate(-90) scale(0.8655,1)" font-size="33">Absorbance (a.u.)</text>
</g>
</svg></body></html>
